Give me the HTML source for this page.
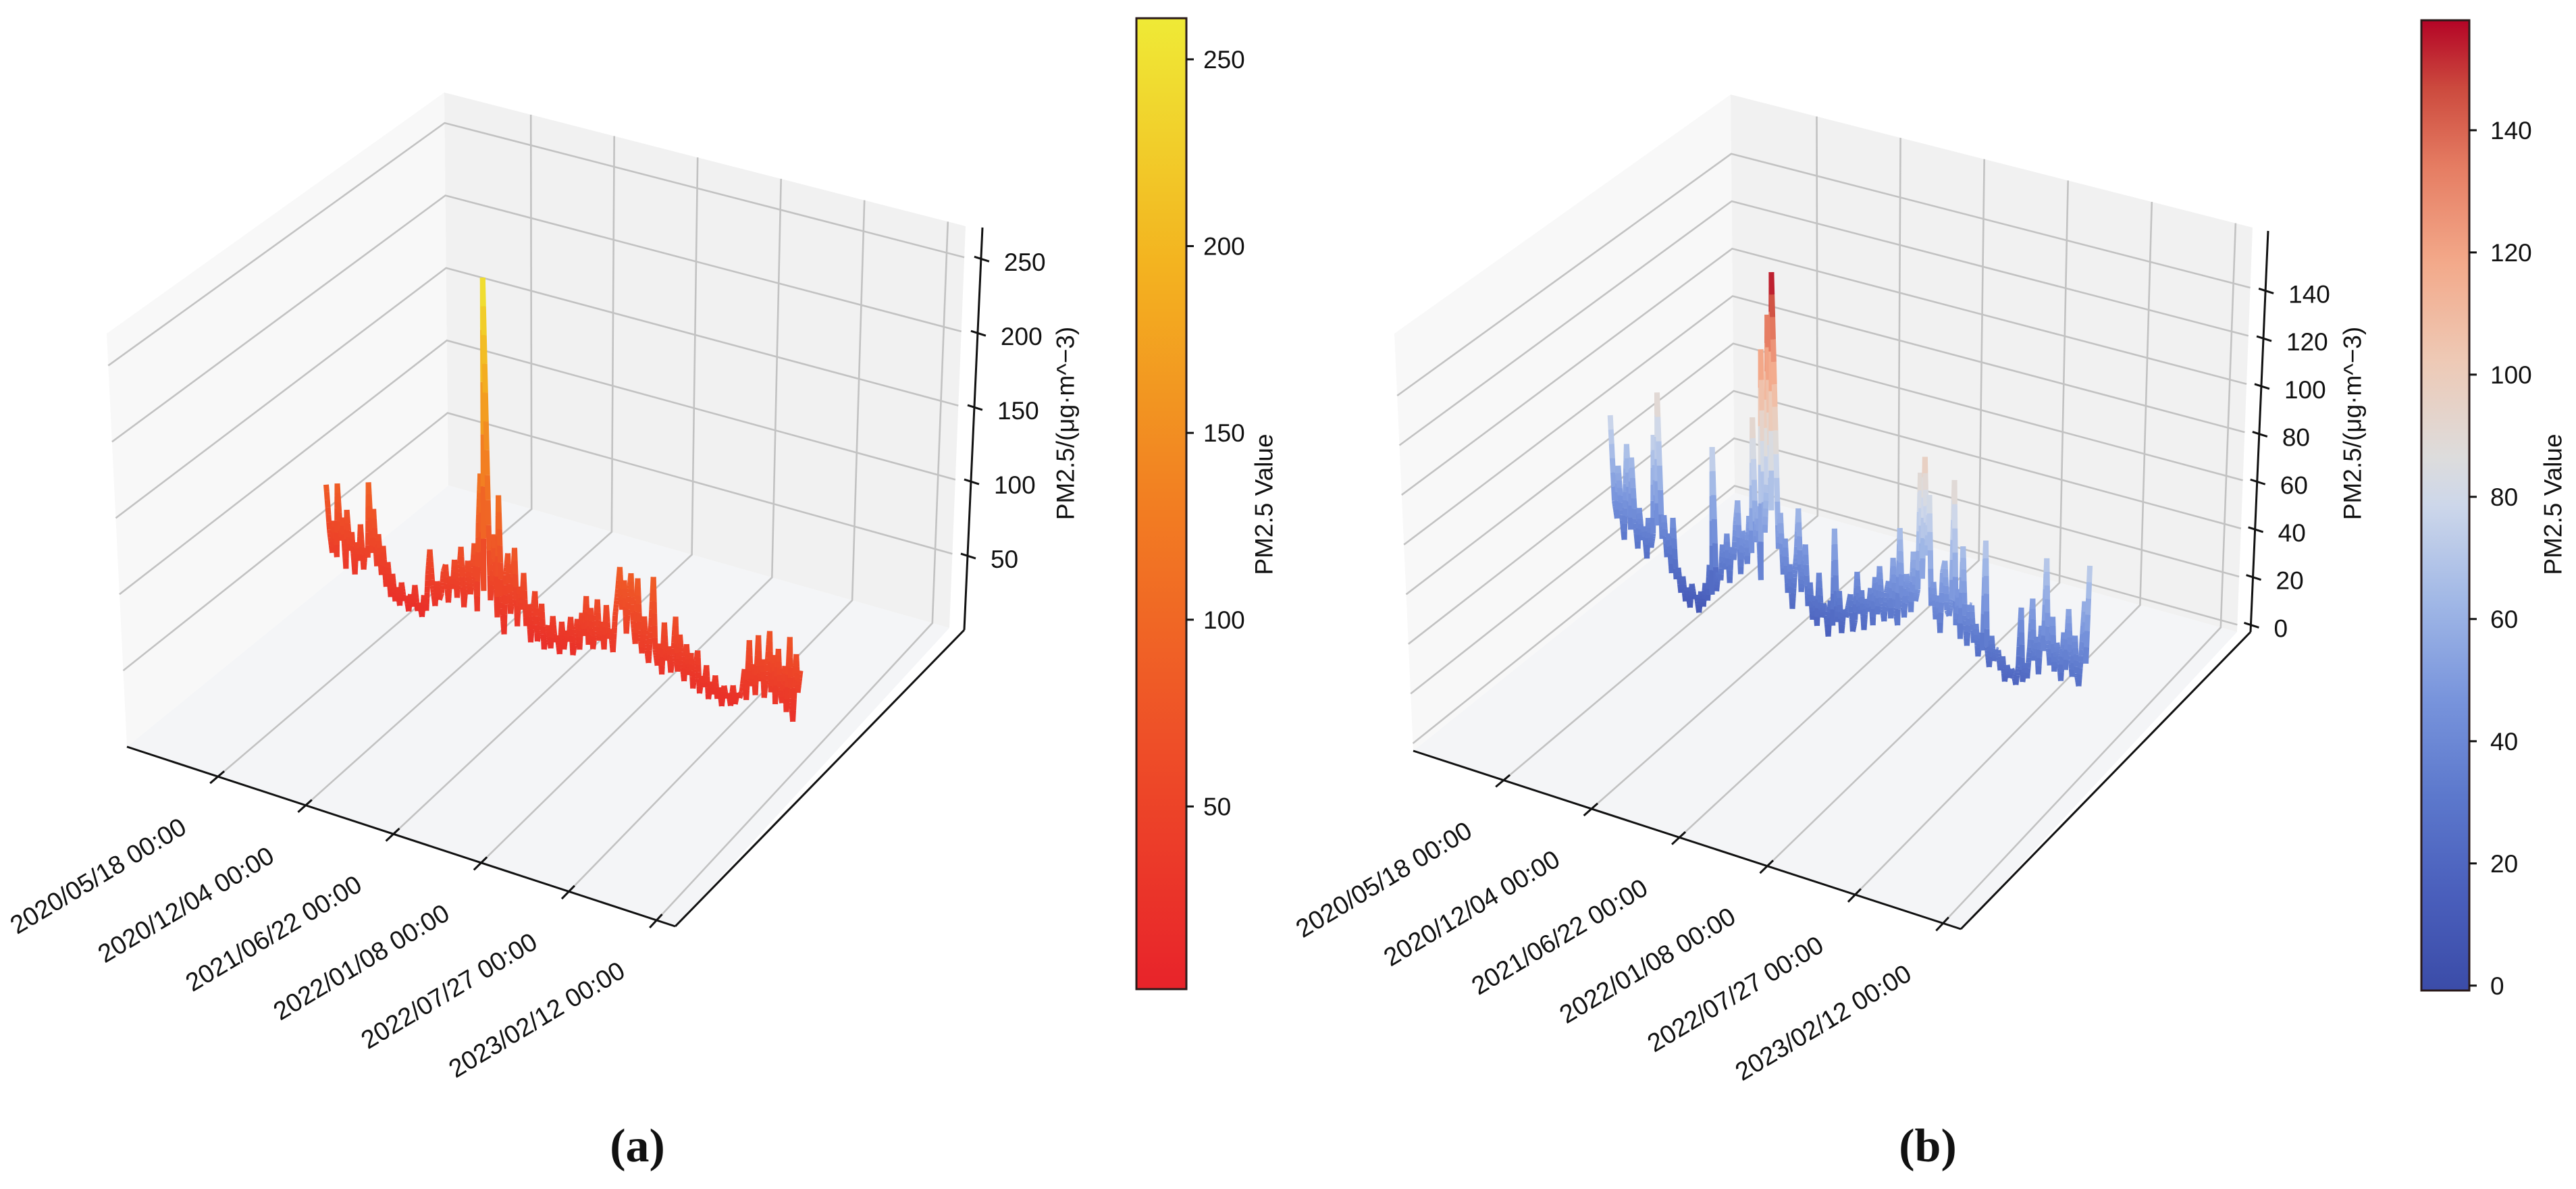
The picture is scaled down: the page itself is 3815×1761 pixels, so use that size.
<!DOCTYPE html>
<html><head><meta charset="utf-8">
<style>
html,body{margin:0;padding:0;background:#fff;}
svg{display:block;}
text{font-family:"Liberation Sans","DejaVu Sans",sans-serif;fill:#111;}
.cap{font-family:"Liberation Serif",serif;font-weight:bold;}
</style></head>
<body>
<svg id="fig" xmlns="http://www.w3.org/2000/svg" width="3815" height="1761" viewBox="0 0 3815 1761">
<defs id="defs"></defs>
<g id="panelA"></g>
<g id="panelB"></g>
<text class="cap" x="944" y="1720" font-size="70" text-anchor="middle">(a)</text>
<text class="cap" x="2855" y="1720" font-size="70" text-anchor="middle">(b)</text>
</svg>
<script>
// ---- data ----
const dateLabels=["2020/05/18 00:00","2020/12/04 00:00","2021/06/22 00:00","2022/01/08 00:00","2022/07/27 00:00","2023/02/12 00:00"];
const tickDays=[138,338,538,738,938,1138]; // days from 2020/01/01
const startDay=-8;
const stepDays=5.3; // sample spacing in days
const seriesA=[85,55,40,62,38,88,50,66,32,72,45,58,30,52,40,65,35,50,44,95,48,
78,40,62,35,55,28,45,22,38,20,30,18,34,22,26,16,28,20,35,18,24,15,30,20,45,62,38,25,42,30,
35,50,55,30,48,40,60,35,52,70,30,45,62,40,55,75,30,90,123,45,255,140,40,60,85,30,112,45,20,60,
75,35,50,80,28,55,40,65,30,45,20,38,55,22,30,48,18,28,35,20,42,25,30,18,40,22,35,28,45,20,
30,45,25,50,35,62,30,55,28,40,62,35,48,30,60,38,45,30,55,70,88,60,80,45,70,86,55,40,84,50,35,60,42,30,55,88,40,30,45,25,
60,35,45,28,40,66,30,55,38,25,50,30,45,22,35,48,20,32,25,40,18,30,22,35,20,28,16,30,22,26,18,32,20,28,25,
30,45,25,65,35,50,30,70,40,55,30,48,75,35,60,28,65,40,30,55,25,75,35,20,65,40,55];
const seriesB=[80,45,38,60,42,30,50,70,35,65,
40,28,45,32,38,25,42,30,36,77,
40,95,35,45,28,38,22,45,20,25,
15,22,12,18,10,20,14,16,9,18,
12,22,15,30,18,79,20,28,25,40,
30,45,25,40,35,50,60,30,48,45,
35,55,40,96,45,60,30,125,50,70,
140,60,158,103,45,60,35,50,28,40,
22,35,45,64,30,40,50,25,35,20,
30,18,40,22,28,25,15,30,20,60,
22,35,18,28,25,30,35,20,25,45,
28,38,22,35,30,40,25,45,30,50,
35,28,40,45,30,55,35,28,68,40,
32,50,45,35,60,40,45,93,50,100,
60,85,40,50,35,45,30,55,60,40,
38,45,94,35,50,30,68,40,28,45,
45,30,38,25,35,28,73,30,22,35,
25,30,30,22,28,18,25,20,24,22,
18,26,50,20,28,22,35,55,30,40,
25,45,35,73,40,30,50,28,40,35,
25,45,30,55,38,28,45,30,25,40,
60,35,75];
const zTicksA=[50,100,150,200,250];
const zTicksB=[0,20,40,60,80,100,120,140];
const cbarTicksA=[50,100,150,200,250];
const cbarTicksB=[0,20,40,60,80,100,120,140];
const cbarRangeA=[1.1,261];
const cbarRangeB=[-0.8,158];

// ---- colormaps ----
const cmapAutumn=[[0,"#e8232a"],[0.25,"#ee4e28"],[0.5,"#f27e22"],[0.75,"#f3b420"],[1,"#efea36"]];
const cmapCoolwarm=[[0,"#3b4ca8"],[0.1,"#4a5fbc"],[0.2,"#5c78cc"],[0.3,"#7894dc"],[0.4,"#a0b7e6"],[0.5,"#cdd7ea"],[0.55,"#dddcdc"],[0.65,"#eec9b5"],[0.75,"#f3a98a"],[0.85,"#e57c62"],[0.93,"#cc4a3e"],[1,"#b40426"]];

const NS="http://www.w3.org/2000/svg";
function hex(c){return [parseInt(c.substr(1,2),16),parseInt(c.substr(3,2),16),parseInt(c.substr(5,2),16)];}
function cmapColor(stops,t){
  t=Math.max(0,Math.min(1,t));
  for(let i=1;i<stops.length;i++){
    if(t<=stops[i][0]){
      const a=hex(stops[i-1][1]),b=hex(stops[i][1]);
      const f=(t-stops[i-1][0])/(stops[i][0]-stops[i-1][0]);
      return "rgb("+a.map((x,k)=>Math.round(x+(b[k]-x)*f)).join(",")+")";
    }
  }
  return stops[stops.length-1][1];
}
function mk(tag,attrs,parent){const e=document.createElementNS(NS,tag);for(const k in attrs)e.setAttribute(k,attrs[k]);if(parent)parent.appendChild(e);return e;}

// ---- panel geometry (screen positions) ----
const panels=[
 {g:"panelA",series:seriesA,zTicks:zTicksA,cbarTicks:cbarTicksA,cr:cbarRangeA,cmap:cmapAutumn,
  L:[188,1106],F:[1000,1372],R:[1406,930],B:[664,719],Lt:[158,494],Ft:[1000,747],Rt:[1430,335],Bt:[658,137],
  zmin:0,zmax:271,v:0.55,u0:0.166,du:0.160,
  zAxTop:[1455,337],zAxBot:[1428,933],
  cb:{x:1683,y:27,w:74,h:1438},cbLabelX:1782,cbTitleX:1872,zTitle:[1578,627],id:"a"},
 {g:"panelB",series:seriesB,zTicks:zTicksB,cbarTicks:cbarTicksB,cr:cbarRangeB,cmap:cmapCoolwarm,
  L:[2093,1112],F:[2904,1376],R:[3313,936],B:[2569,730],Lt:[2065,494],Ft:[2904,746],Rt:[3336,337],Bt:[2563,140],
  zmin:-3,zmax:165,v:0.55,u0:0.165,du:0.1605,
  zAxTop:[3359,342],zAxBot:[3333,936],
  cb:{x:3586,y:30,w:71,h:1437},cbLabelX:3688,cbTitleX:3781,zTitle:[3484,627],id:"b"}
];

function bil(A,Bp,C,D,u,v){
  const w0=(1-u)*(1-v),w1=u*(1-v),w2=u*v,w3=(1-u)*v;
  return [A[0]*w0+Bp[0]*w1+C[0]*w2+D[0]*w3, A[1]*w0+Bp[1]*w1+C[1]*w2+D[1]*w3];
}
function proj(p,u,v,z){
  const f=bil(p.L,p.F,p.R,p.B,u,v),t=bil(p.Lt,p.Ft,p.Rt,p.Bt,u,v);
  const w=(z-p.zmin)/(p.zmax-p.zmin);
  return [f[0]+w*(t[0]-f[0]),f[1]+w*(t[1]-f[1])];
}
function dayToU(p,d){return p.u0+(d-tickDays[0])/200*p.du;}
function pts(a){return a.map(q=>q[0].toFixed(1)+","+q[1].toFixed(1)).join(" ");}

const defs=document.getElementById("defs");

panels.forEach(p=>{
  const g=document.getElementById(p.g);
  const paneL=mk("polygon",{points:pts([p.L,p.Lt,p.Bt,p.B]),fill:"#f8f8f8"},g);
  
  
  const paneR=mk("polygon",{points:pts([p.B,p.Bt,p.Rt,p.R]),fill:"#f1f1f1"},g);
  
  
  const paneF=mk("polygon",{points:pts([p.L,p.B,p.R,p.F]),fill:"#f4f5f7"},g);
  
  
  const grid=mk("g",{stroke:"#c2c2c2","stroke-width":2.6,fill:"none"},g);
  
  
  p.zTicks.forEach(z=>{
    const a=proj(p,0,0,z),b=proj(p,0,1,z),c=proj(p,1,1,z);
    const gl=mk("polyline",{points:pts([a,b,c])},grid);
    
    
  });
  tickDays.forEach(d=>{
    const u=dayToU(p,d);
    const a=proj(p,u,0,p.zmin),b=proj(p,u,1,p.zmin),c=proj(p,u,1,p.zmax);
    const gl=mk("polyline",{points:pts([a,b,c])},grid);
    
    
  });
  const ax=mk("g",{stroke:"#111","stroke-width":3,fill:"none"},g);
  
  
  const xa=mk("line",{x1:p.L[0],y1:p.L[1],x2:p.F[0],y2:p.F[1]},ax);
  
  
  const ya=mk("line",{x1:p.F[0],y1:p.F[1],x2:p.zAxBot[0],y2:p.zAxBot[1]},ax);
  
  
  const za=mk("line",{x1:p.zAxTop[0],y1:p.zAxTop[1],x2:p.zAxBot[0],y2:p.zAxBot[1]},ax);
  
  
  tickDays.forEach((d,k)=>{
    const u=dayToU(p,d);
    const a=proj(p,u,-0.025,p.zmin),b=proj(p,u,0.02,p.zmin),t=proj(p,u,0,p.zmin);
    const tk=mk("line",{x1:a[0],y1:a[1],x2:b[0],y2:b[1]},ax);
    
    
    const lx=t[0]-44,ly=t[1]+82;
    const tx=mk("text",{x:lx,y:ly,"font-size":38,"text-anchor":"end",transform:"rotate(-31 "+lx+" "+ly+")"},g);
    tx.textContent=dateLabels[k];
    
    
  });
  p.zTicks.forEach(z=>{
    const f=(z-p.zmin)/(p.zmax-p.zmin);
    const x=p.zAxBot[0]+f*(p.zAxTop[0]-p.zAxBot[0]);
    const y=p.zAxBot[1]+f*(p.zAxTop[1]-p.zAxBot[1]);
    const tk=mk("line",{x1:x-10,y1:y-3,x2:x+12,y2:y+4},ax);
    
    
    const tx=mk("text",{x:x+34,y:y+18,"font-size":37},g);
    tx.textContent=String(z);
    
    
  });
  const zt=mk("text",{x:p.zTitle[0],y:p.zTitle[1],"font-size":37,"text-anchor":"middle","dominant-baseline":"central",transform:"rotate(-90 "+p.zTitle[0]+" "+p.zTitle[1]+")"},g);
  zt.textContent="PM2.5/(μg·m^−3)";
  
  

  const sg=mk("g",{"stroke-width":8,"stroke-linecap":"butt",fill:"none"},g);
  
  
  const n=p.series.length, sub=6;
  for(let i=0;i<n-1;i++){
    const v0=p.series[i],v1=p.series[i+1];
    const d0=startDay+i*stepDays,d1=startDay+(i+1)*stepDays;
    for(let s=0;s<sub;s++){
      const ta=s/sub,tb=(s+1)/sub;
      const za=v0+(v1-v0)*ta,zb=v0+(v1-v0)*tb;
      const ua=dayToU(p,d0+(d1-d0)*ta),ub=dayToU(p,d0+(d1-d0)*tb);
      const A=proj(p,ua,p.v,za),B=proj(p,ub,p.v,zb);
      const col=cmapColor(p.cmap,((za+zb)/2-p.cr[0])/(p.cr[1]-p.cr[0]));
      const ln=mk("line",{x1:A[0].toFixed(1),y1:A[1].toFixed(1),x2:B[0].toFixed(1),y2:B[1].toFixed(1),stroke:col},sg);
      
      
    }
  }

  const gid="cbgrad"+p.id;
  const lg=mk("linearGradient",{id:gid,x1:0,y1:1,x2:0,y2:0},defs);
  p.cmap.forEach(s=>mk("stop",{offset:s[0],"stop-color":s[1]},lg));
  const cbg=mk("g",{},g);
  
  
  const rect=mk("rect",{x:p.cb.x,y:p.cb.y,width:p.cb.w,height:p.cb.h,fill:"url(#"+gid+")",stroke:"#2a1a1a","stroke-width":3},cbg);
  
  
  p.cbarTicks.forEach(t=>{
    const y=p.cb.y+p.cb.h-(t-p.cr[0])/(p.cr[1]-p.cr[0])*p.cb.h;
    const tk=mk("line",{x1:p.cb.x+p.cb.w,y1:y,x2:p.cb.x+p.cb.w+11,y2:y,stroke:"#111","stroke-width":3},cbg);
    
    
    const tx=mk("text",{x:p.cbLabelX,y:y+13,"font-size":37},cbg);
    tx.textContent=String(t);
    
    
  });
  const cy=747;
  const ct=mk("text",{x:p.cbTitleX,y:cy,"font-size":37,"text-anchor":"middle","dominant-baseline":"central",transform:"rotate(-90 "+p.cbTitleX+" "+cy+")"},cbg);
  ct.textContent="PM2.5 Value";
  
  
});
</script>
</body></html>
